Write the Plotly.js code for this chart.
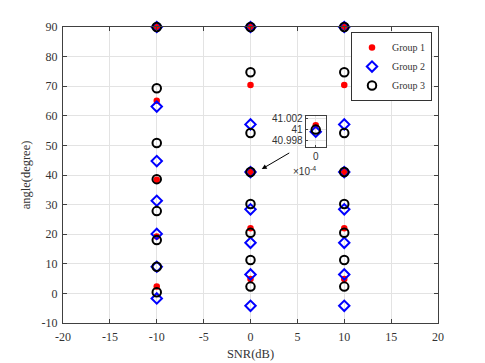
<!DOCTYPE html>
<html>
<head>
<meta charset="utf-8">
<script src="https://cdn.plot.ly/plotly-3.0.1.min.js"></script>
<style>
  html, body { margin: 0; padding: 0; background: #fff; }
  #chart { width: 485px; height: 363px; }
</style>
</head>
<body>
<div id="chart"></div>
<script>
// angle estimates per SNR column (dB)
const snrLevels = [-10, 0, 10];

const group1 = [
    [90, 65.1, 38.4, 19.2, 2.3],
    [90, 70.4, 41.0008, 22.0, 4.9],
    [90, 70.4, 41.0008, 22.0, 4.9]
];
const group2 = [
    [90, 63.1, 44.7, 31.3, 20.1, 9.0, -1.7],
    [90, 57.1, 40.9996, 28.4, 17.1, 6.4, -4.2],
    [90, 57.1, 40.9996, 28.4, 17.1, 6.4, -4.2]
];
const group3 = [
    [90, 69.3, 50.8, 38.6, 27.8, 18.0, 9.0, 0.4],
    [90, 74.7, 54.2, 41.0, 30.2, 20.5, 11.3, 2.3],
    [90, 74.7, 54.2, 41.0, 30.2, 20.5, 11.3, 2.3]
];

const xTicks = [-20, -15, -10, -5, 0, 5, 10, 15, 20];
const yTicks = [-10, 0, 10, 20, 30, 40, 50, 60, 70, 80, 90];
const insetTicks = [40.998, 41, 41.002];

function flatten(groups) {
    const x = [], y = [];
    groups.forEach((vals, i) => vals.forEach(v => { x.push(snrLevels[i]); y.push(v); }));
    return { x, y };
}

// points near 41 at SNR = 0 go into the zoomed inset
function insetPoints(groups) {
    const vals = groups[1].filter(v => Math.abs(v - 41) < 0.01);
    return { x: vals.map(() => 0), y: vals };
}

const styles = [
    { name: 'Group 1', data: group1, marker: { symbol: 'circle', size: 6.5, color: '#ff0000', line: { width: 0 } } },
    { name: 'Group 2', data: group2, marker: { symbol: 'diamond-open', size: 8, color: '#0000ff', line: { width: 2, color: '#0000ff' } } },
    { name: 'Group 3', data: group3, marker: { symbol: 'circle-open', size: 8.5, color: '#000000', line: { width: 2, color: '#000000' } } }
];

const traces = [];
styles.forEach(s => {
    const p = flatten(s.data);
    traces.push({ x: p.x, y: p.y, type: 'scatter', mode: 'markers', name: s.name, marker: s.marker, cliponaxis: false });
});
styles.forEach(s => {
    const p = insetPoints(s.data);
    traces.push({ x: p.x, y: p.y, type: 'scatter', mode: 'markers', name: s.name, showlegend: false,
        xaxis: 'x2', yaxis: 'y2', marker: s.marker, cliponaxis: true });
});

const hyphen = v => String(v).replace('\u2212', '-');

const axisBase = {
    showline: true,
    linecolor: '#404040',
    linewidth: 1,
    mirror: 'ticks',
    ticks: 'inside',
    ticklen: 4,
    tickcolor: '#404040',
    showgrid: true,
    gridcolor: '#e3e3e3',
    zeroline: false,
    tickfont: { family: 'Liberation Serif', size: 12, color: '#333' }
};

const layout = {
    width: 485,
    height: 363,
    paper_bgcolor: '#fff',
    plot_bgcolor: '#fff',
    font: { family: 'Liberation Serif', color: '#333' },
    margin: { l: 63, r: 47, t: 27, b: 40 },
    xaxis: Object.assign({}, axisBase, {
        range: [-20, 20], domain: [0, 1],
        tickvals: xTicks, ticktext: xTicks.map(hyphen), ticklabelstandoff: 3,
        title: { text: 'SNR(dB)', font: { size: 12.5, color: '#333' }, standoff: 5 }
    }),
    yaxis: Object.assign({}, axisBase, {
        range: [-10, 90], domain: [0, 1],
        tickvals: yTicks, ticktext: yTicks.map(hyphen), ticklabelstandoff: 2,
        title: { text: 'angle(degree)', font: { size: 12.5, color: '#333' }, standoff: 8 }
    }),
    xaxis2: Object.assign({}, axisBase, {
        domain: [0.647, 0.701], anchor: 'y2', range: [-1e-4, 1e-4],
        tickvals: [0], ticktext: ['0'], mirror: true, ticklen: 2,
        tickfont: { family: 'Liberation Sans', size: 10, color: '#333' }
    }),
    yaxis2: Object.assign({}, axisBase, {
        domain: [0.595, 0.699], anchor: 'x2', range: [40.9968, 41.0025],
        tickvals: insetTicks, ticktext: ['40.998', '41', '41.002'], mirror: true, ticklen: 2,
        tickfont: { family: 'Liberation Sans', size: 10, color: '#333' }
    }),
    legend: {
        x: 0.984, y: 0.983, xanchor: 'right', yanchor: 'top',
        bgcolor: '#fff', bordercolor: '#333', borderwidth: 1,
        font: { family: 'Liberation Serif', size: 10, color: '#333' },
        tracegroupgap: 0, itemwidth: 30
    },
    annotations: [
        {
            x: 1.2, y: 42.0, xref: 'x', yref: 'y',
            ax: 29, ay: -17, showarrow: true,
            arrowhead: 2, arrowsize: 1, arrowwidth: 1, arrowcolor: '#000', text: ''
        },
        {
            x: 0.68, y: 0.513, xref: 'paper', yref: 'paper',
            text: '×10<sup>-4</sup>', showarrow: false,
            font: { family: 'Liberation Sans', size: 10, color: '#333' }
        }
    ],
    showlegend: true
};

Plotly.newPlot('chart', traces, layout, { displayModeBar: false });
</script>
</body>
</html>
